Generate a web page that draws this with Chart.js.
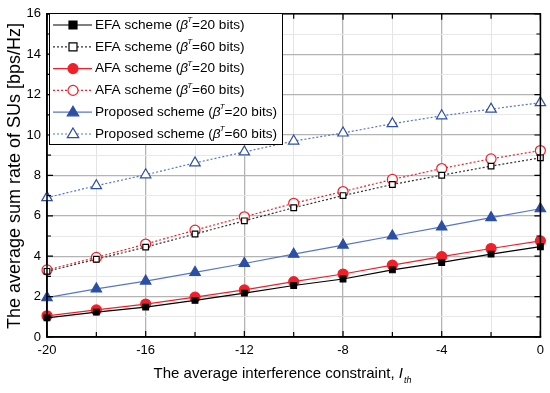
<!DOCTYPE html>
<html>
<head>
<meta charset="utf-8">
<script src="https://cdn.jsdelivr.net/npm/chart.js@4.4.0/dist/chart.umd.min.js"></script>
<style>
  html, body { margin: 0; padding: 0; background: #fff; }
  #wrap { width: 550px; height: 393px; }
</style>
</head>
<body>
<div id="wrap"><canvas id="rateChart" width="550" height="393"></canvas></div>
<script>
// valores
var constraintX = [-20, -18, -16, -14, -12, -10, -8, -6, -4, -2, 0];
var efa20  = [0.95, 1.23, 1.48, 1.81, 2.17, 2.55, 2.87, 3.32, 3.69, 4.10, 4.47];
var efa60  = [3.25, 3.85, 4.45, 5.10, 5.75, 6.40, 7.00, 7.55, 8.01, 8.46, 8.87];
var afa20  = [1.05, 1.34, 1.63, 1.97, 2.33, 2.74, 3.12, 3.56, 3.98, 4.38, 4.76];
var afa60  = [3.32, 3.94, 4.60, 5.29, 5.95, 6.62, 7.20, 7.80, 8.34, 8.82, 9.23];
var prop20 = [1.95, 2.38, 2.77, 3.20, 3.64, 4.10, 4.55, 5.00, 5.45, 5.91, 6.35];
var prop60 = [6.90, 7.49, 8.03, 8.62, 9.16, 9.70, 10.10, 10.56, 10.95, 11.28, 11.60];
var seriesNames = ['EFA scheme', 'EFA scheme', 'AFA scheme', 'AFA scheme', 'Proposed scheme', 'Proposed scheme'];
var seriesBits = ['20', '60', '20', '60', '20', '60'];

var BLACK = '#000000', RED = '#f0202a', BLUE = '#2c4fa6', BLUE_LINE = '#5576cc';
var FONT = '"Liberation Sans", Arial, sans-serif';

function toPoints(arr) {
    return constraintX.map(function (x, i) { return { x: x, y: arr[i] }; });
}

function makeSet(idx, arr, color, lineColor, style, filled, radius, dashed) {
    return {
        label: seriesNames[idx] + ' (\u03B2T=' + seriesBits[idx] + ' bits)',
        data: toPoints(arr),
        borderColor: lineColor,
        borderWidth: 1.2,
        borderDash: dashed ? [2, 2] : [],
        pointStyle: style,
        pointRadius: radius,
        pointBorderColor: color,
        pointBackgroundColor: filled ? color : '#ffffff',
        pointBorderWidth: 1.2,
        tension: 0,
        clip: false
    };
}

var datasets = [
    makeSet(0, efa20, BLACK, BLACK, 'rect', true, 4, false),
    makeSet(1, efa60, BLACK, '#333333', 'rect', false, 4, true),
    makeSet(2, afa20, RED, RED, 'circle', true, 5, false),
    makeSet(3, afa60, RED, RED, 'circle', false, 5, true),
    makeSet(4, prop20, BLUE, BLUE_LINE, 'triangle', true, 6, false),
    makeSet(5, prop60, BLUE, BLUE_LINE, 'triangle', false, 6, true)
];

function drawMarker(c, style, r, x, y) {
    if (style === 'rect') {
        c.rect(x - r, y - r, 2 * r, 2 * r);
    } else if (style === 'circle') {
        c.arc(x, y, r, 0, Math.PI * 2);
    } else {
        c.moveTo(x, y - r);
        c.lineTo(x + r * 0.95, y + r * 0.6);
        c.lineTo(x - r * 0.95, y + r * 0.6);
        c.closePath();
    }
}

// marco, ticks hacia dentro, leyenda y títulos de ejes
var decorPlugin = {
    id: 'decor',
    afterDraw: function (chart) {
        var c = chart.ctx, a = chart.chartArea;
        var xs = chart.scales.x, ys = chart.scales.y;
        c.save();
        c.strokeStyle = '#000';
        c.lineWidth = 1.5;
        c.strokeRect(a.left, a.top, a.right - a.left, a.bottom - a.top);

        c.lineWidth = 1.2;
        c.beginPath();
        for (var v = -20; v <= 0; v += 2) {
            var px = xs.getPixelForValue(v);
            var len = (v % 4 === 0) ? 6 : 5;
            c.moveTo(px, a.bottom); c.lineTo(px, a.bottom - len);
            c.moveTo(px, a.top); c.lineTo(px, a.top + len);
        }
        for (var w = 0; w <= 16; w += 1) {
            var py = ys.getPixelForValue(w);
            var l2 = (w % 2 === 0) ? 6 : 4;
            c.moveTo(a.left, py); c.lineTo(a.left + l2, py);
            c.moveTo(a.right, py); c.lineTo(a.right - l2, py);
        }
        c.stroke();

        // leyenda
        var bx = 49, by = 13, bw = 233, bh = 131;
        c.fillStyle = '#fff';
        c.fillRect(bx, by, bw, bh);
        c.strokeStyle = '#000';
        c.lineWidth = 1;
        c.strokeRect(bx + 0.5, by + 0.5, bw, bh);
        chart.data.datasets.forEach(function (ds, i) {
            var ry = 25 + i * 21.8;
            c.save();
            c.strokeStyle = ds.borderColor;
            c.lineWidth = 1.2;
            c.setLineDash(ds.borderDash);
            c.beginPath();
            c.moveTo(53, ry); c.lineTo(92, ry);
            c.stroke();
            c.setLineDash([]);
            c.fillStyle = ds.pointBackgroundColor;
            c.strokeStyle = ds.pointBorderColor;
            c.beginPath();
            drawMarker(c, ds.pointStyle, ds.pointRadius, 73, ry);
            c.fill(); c.stroke();
            c.restore();

            var tx = 95;
            c.fillStyle = '#000';
            c.textBaseline = 'middle';
            c.textAlign = 'left';
            c.font = '13.6px ' + FONT;
            var t1 = seriesNames[i] + ' (';
            c.fillText(t1, tx, ry);
            tx += c.measureText(t1).width;
            c.font = 'italic 13.6px ' + FONT;
            c.fillText('\u03B2', tx, ry);
            tx += c.measureText('\u03B2').width;
            c.font = 'italic 8px ' + FONT;
            c.fillText('T', tx - 1, ry - 5);
            tx += c.measureText('T').width - 1;
            c.font = '13.6px ' + FONT;
            c.fillText('=' + seriesBits[i] + ' bits)', tx, ry);
        });

        // título eje x
        c.fillStyle = '#000';
        c.textBaseline = 'middle';
        var main = 'The average interference constraint, ';
        c.font = '15px ' + FONT;
        var wMain = c.measureText(main).width;
        c.font = 'italic 15px ' + FONT;
        var wI = c.measureText('I').width;
        c.font = 'italic 9px ' + FONT;
        var wSub = c.measureText('th').width;
        var startX = 282 - (wMain + wI + wSub) / 2;
        var ty = 374;
        c.textAlign = 'left';
        c.font = '15px ' + FONT;
        c.fillText(main, startX, ty);
        c.font = 'italic 15px ' + FONT;
        c.fillText('I', startX + wMain, ty);
        c.font = 'italic 9px ' + FONT;
        c.fillText('th', startX + wMain + wI + 1, ty + 6);

        // título eje y
        c.save();
        c.translate(15, 176);
        c.rotate(-Math.PI / 2);
        c.textAlign = 'center';
        c.font = '18px ' + FONT;
        c.fillText('The average sum rate of SUs [bps/Hz]', 0, 0);
        c.restore();
        c.restore();
    }
};

var ctx = document.getElementById('rateChart').getContext('2d');
var rateChart = new Chart(ctx, {
    type: 'line',
    data: { datasets: datasets },
    options: {
        responsive: false,
        animation: false,
        layout: { padding: { top: 10, right: 7, left: 0, bottom: 0 } },
        plugins: {
            legend: { display: false },
            tooltip: { enabled: false }
        },
        scales: {
            x: {
                type: 'linear',
                min: -20,
                max: 0,
                afterFit: function (s) { s.height = 56; },
                ticks: {
                    stepSize: 2,
                    padding: 6,
                    color: '#000',
                    font: { family: FONT, size: 13 },
                    callback: function (v) { return v % 4 === 0 ? v : ''; }
                },
                grid: {
                    drawTicks: false,
                    color: function (c) { return c.tick && c.tick.value % 4 === 0 ? '#b4b4b4' : '#e4e4e4'; },
                    lineWidth: function (c) { return c.tick && c.tick.value % 4 === 0 ? 1.3 : 1; }
                },
                border: { color: '#000', width: 1.5 }
            },
            y: {
                min: 0,
                max: 16,
                afterFit: function (s) { s.width = 47; },
                ticks: {
                    stepSize: 1,
                    padding: 6,
                    color: '#000',
                    font: { family: FONT, size: 13 },
                    callback: function (v) { return v % 2 === 0 ? v : ''; }
                },
                grid: {
                    drawTicks: false,
                    color: function (c) { return c.tick && c.tick.value % 2 === 0 ? '#b4b4b4' : '#e8e8e8'; },
                    lineWidth: function (c) { return c.tick && c.tick.value % 2 === 0 ? 1.3 : 1; }
                },
                border: { color: '#000', width: 1.5 }
            }
        }
    },
    plugins: [decorPlugin]
});
</script>
</body>
</html>
